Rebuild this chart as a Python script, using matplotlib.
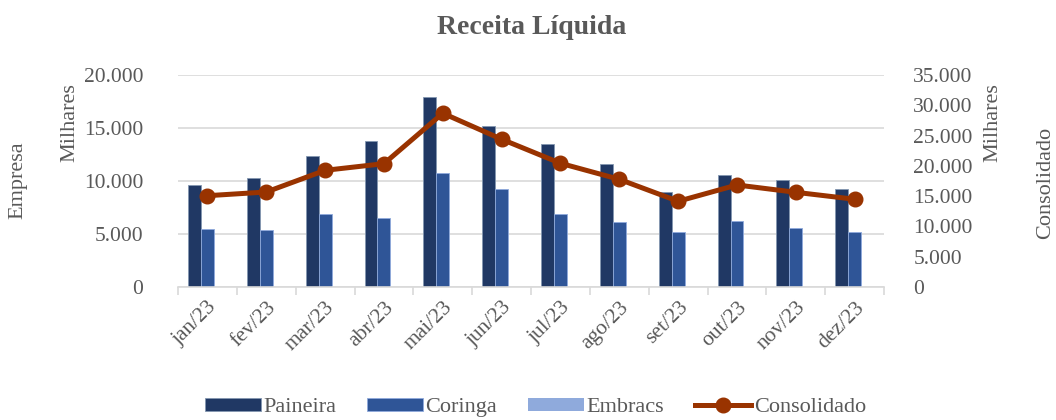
import numpy as np
import matplotlib.pyplot as plt
from matplotlib.ticker import FuncFormatter, FixedLocator

plt.rcParams['font.family'] = ['Liberation Serif', 'DejaVu Serif']

meses = ['jan/23', 'fev/23', 'mar/23', 'abr/23', 'mai/23', 'jun/23',
         'jul/23', 'ago/23', 'set/23', 'out/23', 'nov/23', 'dez/23']
paineira = [9620, 10250, 12330, 13770, 17890, 15190, 13460, 11600, 8930, 10570, 10060, 9250]
coringa = [5440, 5380, 6890, 6510, 10720, 9220, 6860, 6160, 5190, 6230, 5570, 5190]
embracs = [0, 0, 0, 0, 0, 0, 0, 0, 0, 0, 0, 0]
consolidado = [15070, 15680, 19260, 20360, 28680, 24390, 20420, 17770, 14150, 16840, 15630, 14480]

cinza = '#595959'
grade = '#D9D9D9'

fig = plt.figure(figsize=(10.56, 4.2), dpi=100)
ax = fig.add_axes([0.1686, 0.3167, 0.6686, 0.5048])
ax2 = ax.twinx()

x = np.arange(len(meses))
w = 0.22
b1 = ax.bar(x - w, paineira, w, color='#203864', edgecolor='#8497B0', linewidth=0.6, label='Paineira', zorder=2)
b2 = ax.bar(x, coringa, w, color='#2F5597', edgecolor='#8FAADC', linewidth=0.6, label='Coringa', zorder=2)
b3 = ax.bar(x + w, embracs, w, color='#8FAADC', label='Embracs', zorder=2)
l1, = ax2.plot(x, consolidado, color='#993300', lw=3.6, marker='o', ms=10.5, label='Consolidado')

ax.set_xlim(-0.5, 11.5)
ax.set_ylim(0, 20000)
ax2.set_ylim(0, 35000)
ax.set_yticks(np.arange(0, 20001, 5000))
ax2.set_yticks(np.arange(0, 35001, 5000))
fmt = FuncFormatter(lambda v, p: f'{int(v):,}'.replace(',', '.'))
ax.yaxis.set_major_formatter(fmt)
ax2.yaxis.set_major_formatter(fmt)

ax.grid(axis='y', color=grade, lw=1.2, zorder=0)
ax.set_axisbelow(True)
for a in (ax, ax2):
    for s in a.spines.values():
        s.set_visible(False)
ax.spines['bottom'].set_visible(True)
ax.spines['bottom'].set_color(grade)
ax.spines['bottom'].set_linewidth(1.2)

ax.set_xticks(x)
ax.set_xticklabels(meses, rotation=45, ha='right', rotation_mode='anchor')
ax.xaxis.set_minor_locator(FixedLocator(np.arange(-0.5, 12, 1)))
ax.tick_params(axis='x', which='major', length=0, pad=8, labelsize=15.5, labelcolor=cinza)
ax.tick_params(axis='x', which='minor', length=6, color=grade, width=1.2)
ax.tick_params(axis='y', length=0, pad=25, labelsize=15.5, labelcolor=cinza)
ax2.tick_params(axis='y', length=0, pad=21, labelsize=15.5, labelcolor=cinza)

fig.text(0.503, 0.935, 'Receita Líquida', ha='center', va='center',
         fontsize=20, fontweight='bold', color=cinza)
fig.text(0.017, 0.57, 'Empresa', rotation=90, ha='center', va='center', fontsize=16, color=cinza)
fig.text(0.066, 0.707, 'Milhares', rotation=90, ha='center', va='center', fontsize=16, color=cinza)
fig.text(0.940, 0.707, 'Milhares', rotation=90, ha='center', va='center', fontsize=16, color=cinza)
fig.text(0.990, 0.565, 'Consolidado', rotation=90, ha='center', va='center', fontsize=16, color=cinza)

fig.legend(handles=[b1, b2, b3, l1], loc='center', bbox_to_anchor=(0.507, 0.03), ncol=4,
           frameon=False, fontsize=16, labelcolor=cinza, handlelength=2.5, handleheight=0.55,
           handletextpad=0.12, columnspacing=1.4)

fig.savefig('out.png', dpi=100)
